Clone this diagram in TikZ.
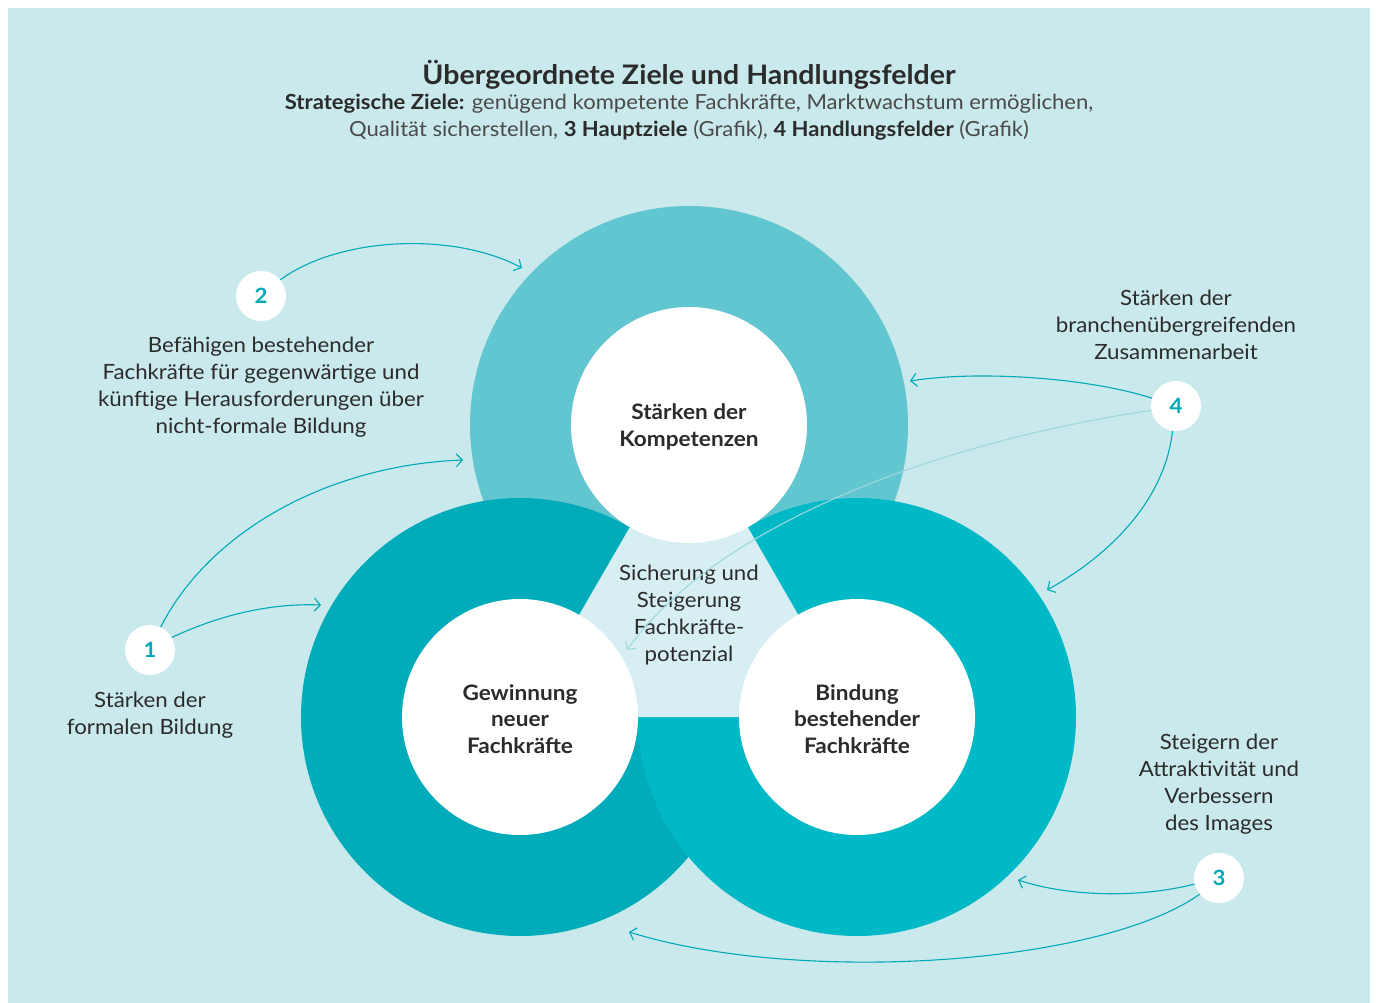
\documentclass[tikz,border=0pt]{standalone}
\usepackage{fontspec}
\setmainfont{Lato}[FakeStretch=1.06]
\usetikzlibrary{arrows.meta}
\definecolor{bg}{HTML}{CAE9EC}
\definecolor{ringtop}{HTML}{62C6D0}
\definecolor{ringleft}{HTML}{00ACBA}
\definecolor{ringright}{HTML}{00B9C6}
\definecolor{tri}{HTML}{D7EFF2}
\definecolor{txt}{HTML}{2B2B2B}
\definecolor{subtxt}{HTML}{4A4A4A}
\definecolor{arrcol}{HTML}{00A9B8}
\definecolor{palearr}{HTML}{9ED8DF}
\begin{document}
\begin{tikzpicture}[x=1pt,y=-1pt,
  body/.style={align=center,text=txt,inner sep=0pt,font=\fontsize{21}{26.8}\selectfont},
  label/.style={align=center,text=txt,inner sep=0pt,font=\fontsize{21.3}{26.8}\selectfont\bfseries},
  numc/.style={circle,fill=white,minimum size=50pt,inner sep=0pt,text=arrcol,font=\fontsize{21}{24}\selectfont\bfseries},
  arr/.style={draw=arrcol,line width=1.1pt,-{Straight Barb[length=6pt,width=13pt]}},
  palearrow/.style={draw=palearr,line width=1.1pt,-{Straight Barb[length=6pt,width=13pt]}}]
\useasboundingbox (0,0) rectangle (1377,1003);
\fill[white] (0,0) rectangle (1377,1003);
\fill[bg] (8,8) rectangle (1370,1003);

% centres
\coordinate (cT) at (689,425);
\coordinate (cL) at (520,717);
\coordinate (cR) at (857,717);

% rings
\fill[ringtop] (cT) circle[radius=219pt];
\fill[ringleft] (cL) circle[radius=219pt];
\fill[ringright] (cR) circle[radius=219pt];
\fill[tri] (cT) -- (cL) -- (cR) -- cycle;
\fill[white] (cT) circle[radius=118pt];
\fill[white] (cL) circle[radius=118pt];
\fill[white] (cR) circle[radius=118pt];

% title
\node[text=txt,inner sep=0pt,font=\fontsize{26.9}{30}\selectfont\bfseries] (title) at (689,75) {Übergeordnete Ziele und Handlungsfelder};
\node[align=center,text=subtxt,inner sep=0pt,font=\fontsize{20.8}{27}\selectfont] (sub) at (689,117)
  {{\color{txt}\bfseries Strategische Ziele:} genügend kompetente Fachkräfte, Marktwachstum ermöglichen,\\
   Qualität sicherstellen, {\color{txt}\bfseries 3 Hauptziele} (Grafik), {\color{txt}\bfseries 4 Handlungsfelder} (Grafik)};

% ring labels
\node[label] (lT) at (689,427) {Stärken der\\Kompetenzen};
\node[label] (lL) at (520,719) {Gewinnung\\neuer\\Fachkräfte};
\node[label] (lR) at (857,719) {Bindung\\bestehender\\Fachkräfte};
\node[body] (lC) at (689,615) {Sicherung und\\Steigerung\\Fachkräfte-\\potenzial};

% number circles
\node[numc] (n1) at (150,650) {1};
\node[numc] (n2) at (261,296) {2};
\node[numc] (n3) at (1219,878) {3};
\node[numc] (n4) at (1176,406) {4};

% side texts
\node[body] (t1) at (150,715) {Stärken der\\formalen Bildung};
\node[body] (t2) at (261,387) {Befähigen bestehender\\Fachkräfte für gegenwärtige und\\künftige Herausforderungen über\\nicht-formale Bildung};
\node[body] (t4) at (1176,325) {Stärken der\\branchenübergreifenden\\Zusammenarbeit};
\node[body] (t3) at (1219,784) {Steigern der\\Attraktivität und\\Verbessern\\des Images};

% arrow targets
\coordinate (a2) at (522,268);
\coordinate (a1a) at (463,460);
\coordinate (a1b) at (321,605);
\coordinate (a4a) at (910,381);
\coordinate (a4b) at (1047,590);
\coordinate (a4c) at (627,650);
\coordinate (a3a) at (1018,880);
\coordinate (a3b) at (629,932);

% connectors
\draw[arr] (n2.40) .. controls (340,236) and (455,232) .. (a2);
\draw[arr] (n1.65) .. controls (210,530) and (330,465) .. (a1a);
\draw[arr] (n1.30) .. controls (220,615) and (270,603) .. (a1b);
\draw[arr] (n4.162) .. controls (1090,378) and (980,370) .. (a4a);
\draw[arr] (n4.262) .. controls (1165,500) and (1110,555) .. (a4b);
\draw[palearrow] (n4.190) .. controls (950,440) and (720,520) .. (a4c);
\draw[arr] (n3.194) .. controls (1140,898) and (1070,897) .. (a3a);
\draw[arr] (n3.220) .. controls (1100,965) and (800,985) .. (a3b);
\end{tikzpicture}
\end{document}
